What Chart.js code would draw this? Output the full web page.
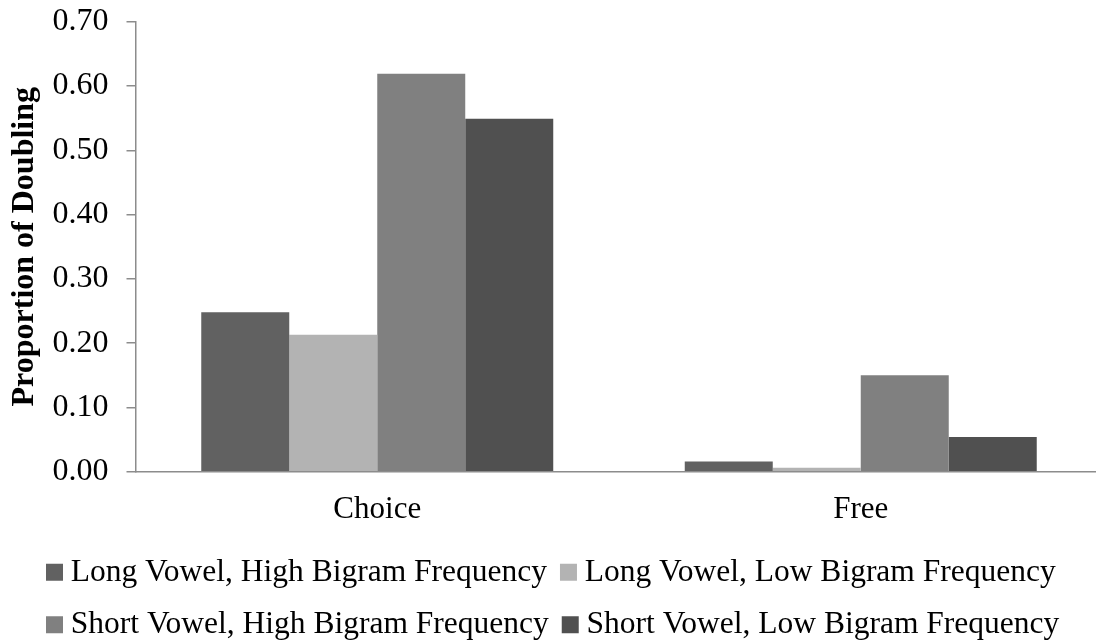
<!DOCTYPE html>
<html>
<head>
<meta charset="utf-8">
<title>Proportion of Doubling</title>
<script src="https://cdn.jsdelivr.net/npm/chart.js@4.4.1/dist/chart.umd.min.js"></script>
<style>
  html, body { margin: 0; padding: 0; background: #ffffff; overflow: hidden; }
  #wrap { width: 1096px; height: 643px; overflow: hidden; }
  canvas { display: block; }
</style>
</head>
<body>
<div id="wrap"><canvas id="chart" width="1104" height="643"></canvas></div>
<script>
// Task conditions on the x axis
const categories = ['Choice', 'Free'];

// Series names (legend order)
const seriesNames = [
  'Long Vowel, High Bigram Frequency',
  'Long Vowel, Low Bigram Frequency',
  'Short Vowel, High Bigram Frequency',
  'Short Vowel, Low Bigram Frequency'
];

// Proportion of doubling per condition
const longHigh  = [0.248, 0.016];
const longLow   = [0.213, 0.006];
const shortHigh = [0.619, 0.150];
const shortLow  = [0.549, 0.054];

// Value axis range and step
const yMin = 0;
const yMax = 0.7;
const yStep = 0.1;

const seriesColors = ['#616161', '#b3b3b3', '#808080', '#505050'];
const seriesValues = [longHigh, longLow, shortHigh, shortLow];

const serif = "'Liberation Serif', 'Times New Roman', Times, serif";
const axisGray = '#8c8c8c';

// Nudges the legend block so both rows start under the y-axis labels
const legendShift = { x: 27.9, y: 7.5 };
const legendPlacement = {
  id: 'legendPlacement',
  afterLayout(chart) {
    const lg = chart.legend;
    if (!lg) return;
    lg.left += legendShift.x;
    lg.right += legendShift.x;
    lg.top += legendShift.y;
    lg.bottom += legendShift.y;
  }
};

// Chart.js reserves tick padding twice when sizing an axis (and again in the
// end padding of a vertical axis); keep it once
const trimPadding = (scale) => {
  const pad = scale.options.ticks.padding;
  if (scale.isHorizontal()) {
    scale.height -= pad;
  } else {
    scale.width -= pad;
    scale.paddingTop = Math.max(scale.paddingTop - pad, 0);
    scale.paddingBottom = Math.max(scale.paddingBottom - pad, 0);
  }
};

new Chart(document.getElementById('chart'), {
  type: 'bar',
  data: {
    labels: categories,
    datasets: seriesNames.map((name, i) => ({
      label: name,
      data: seriesValues[i],
      backgroundColor: seriesColors[i],
      borderWidth: 0,
      categoryPercentage: 0.728,
      barPercentage: 1.0
    }))
  },
  options: {
    responsive: false,
    animation: false,
    devicePixelRatio: 1,
    layout: { padding: { left: 5.1, right: 1.5, top: 21.7, bottom: 0 } },
    plugins: {
      tooltip: { enabled: false },
      legend: {
        position: 'bottom',
        align: 'start',
        labels: {
          usePointStyle: true,
          pointStyle: 'rect',
          boxWidth: 1,
          boxHeight: 17,
          padding: 21,
          color: '#000000',
          font: { family: serif, size: 31.5 }
        }
      }
    },
    scales: {
      x: {
        type: 'category',
        offset: true,
        afterFit: trimPadding,
        grid: { display: true, drawOnChartArea: false, drawTicks: false },
        border: { display: true, color: axisGray, width: 1.5 },
        ticks: {
          color: '#000000',
          padding: 19.1,
          font: { family: serif, size: 31 }
        }
      },
      y: {
        min: yMin,
        max: yMax,
        afterFit: trimPadding,
        grid: {
          drawOnChartArea: false,
          drawTicks: true,
          tickLength: 9,
          color: axisGray,
          lineWidth: 1.5
        },
        border: { display: true, color: axisGray, width: 1.5 },
        ticks: {
          stepSize: yStep,
          color: '#000000',
          padding: 18,
          font: { family: serif, size: 32 },
          callback: (v) => Number(v).toFixed(2)
        },
        title: {
          display: true,
          text: 'Proportion of Doubling',
          color: '#000000',
          font: { family: serif, size: 32, weight: 'bold' },
          padding: { top: 0, bottom: 9 }
        }
      }
    }
  },
  plugins: [legendPlacement]
});
</script>
</body>
</html>
